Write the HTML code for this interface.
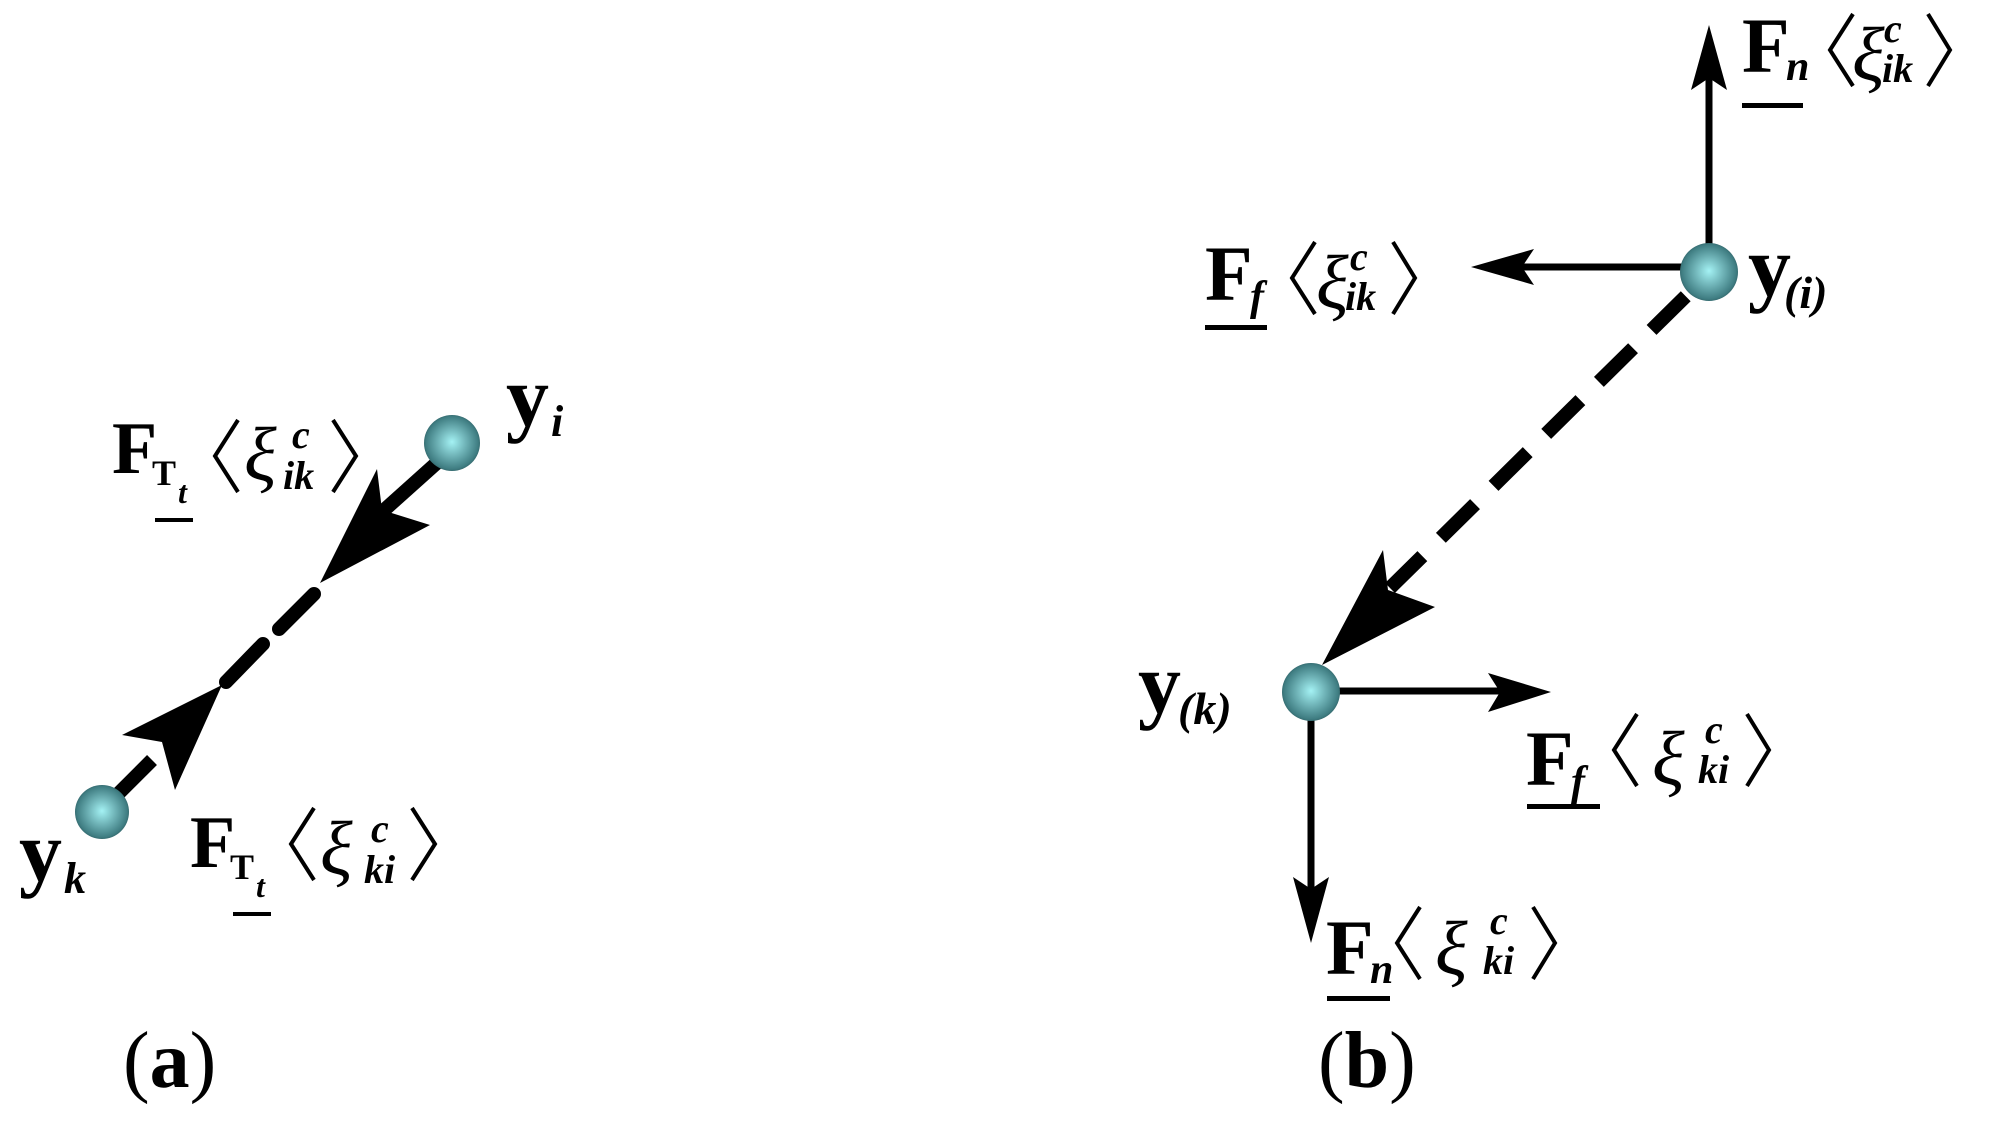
<!DOCTYPE html>
<html><head><meta charset="utf-8"><style>
html,body{margin:0;padding:0;background:#fff;}
svg{display:block;}
text{font-family:"Liberation Serif",serif;fill:#000;}
.B{font-weight:bold;}
.I{font-style:italic;}
</style></head><body>
<svg width="1995" height="1125" viewBox="0 0 1995 1125" xmlns="http://www.w3.org/2000/svg">
<defs>
<radialGradient id="sp" cx="0.5" cy="0.5" r="0.55" fx="0.5" fy="0.48">
<stop offset="0" stop-color="#a4f2f4"/>
<stop offset="0.45" stop-color="#6fb3b7"/>
<stop offset="0.85" stop-color="#3f7d82"/>
<stop offset="1" stop-color="#2a5559"/>
</radialGradient>
</defs>

<!-- ===== Panel (a) ===== -->
<line x1="440" y1="460" x2="382" y2="512" stroke="#000" stroke-width="14"/>
<polygon points="320,583 377,469 382,510 430,525" fill="#000"/>
<line x1="314" y1="594" x2="279" y2="629" stroke="#000" stroke-width="14" stroke-linecap="round"/>
<line x1="263" y1="644" x2="226" y2="682" stroke="#000" stroke-width="14" stroke-linecap="round"/>
<polygon points="222,685 122,735 162,742 175,790" fill="#000"/>
<line x1="152" y1="760" x2="100" y2="812" stroke="#000" stroke-width="14"/>
<circle cx="452" cy="443" r="28" fill="url(#sp)"/>
<circle cx="102" cy="812" r="27" fill="url(#sp)"/>

<!-- upper label a -->
<text x="112" y="473" class="B" font-size="74">F</text>
<text x="152" y="485" class="B" font-size="36">T</text>
<text x="178" y="503" class="I B" font-size="32">t</text>
<rect x="155" y="518" width="38" height="4" fill="#000"/>
<polyline points="238,420 215,456 238,492" fill="none" stroke="#000" stroke-width="4"/>
<text x="244" y="480" class="I" font-size="76">ξ</text>
<text x="292" y="448" class="I B" font-size="40">c</text>
<text x="283" y="489" class="I B" font-size="40">ik</text>
<polyline points="333,420 356,456 333,492" fill="none" stroke="#000" stroke-width="4"/>

<!-- lower label a -->
<text x="190" y="867" class="B" font-size="74">F</text>
<text x="230" y="879" class="B" font-size="36">T</text>
<text x="256" y="897" class="I B" font-size="32">t</text>
<rect x="233" y="912" width="38" height="4" fill="#000"/>
<polyline points="314,808 291,844 314,880" fill="none" stroke="#000" stroke-width="4"/>
<text x="320" y="874" class="I" font-size="76">ξ</text>
<text x="371" y="842" class="I B" font-size="40">c</text>
<text x="364" y="883" class="I B" font-size="40">ki</text>
<polyline points="412,808 435,844 412,880" fill="none" stroke="#000" stroke-width="4"/>

<text x="506" y="425" class="B" font-size="86">y</text>
<text x="551" y="436" class="I B" font-size="44">i</text>
<text x="19" y="880" class="B" font-size="86">y</text>
<text x="64" y="893" class="I B" font-size="44">k</text>

<text x="123" y="1087" font-size="80">(<tspan class="B">a</tspan>)</text>

<!-- ===== Panel (b) ===== -->
<line x1="1709" y1="245" x2="1709" y2="70" stroke="#000" stroke-width="7"/>
<polygon points="1709,25 1727,90 1709,78 1691,90" fill="#000"/>
<line x1="1685" y1="267" x2="1510" y2="267" stroke="#000" stroke-width="7"/>
<polygon points="1471,267 1534,249 1522,267 1534,285" fill="#000"/>
<line x1="1690" y1="292" x2="1390" y2="588" stroke="#000" stroke-width="14" stroke-dasharray="48 26" stroke-dashoffset="-6"/>
<polygon points="1322,665 1383,550 1388,590 1435,607" fill="#000"/>
<line x1="1335" y1="691" x2="1510" y2="691" stroke="#000" stroke-width="7"/>
<polygon points="1551,692 1488,673 1500,692 1488,712" fill="#000"/>
<line x1="1311" y1="715" x2="1311" y2="900" stroke="#000" stroke-width="7"/>
<polygon points="1311,943 1293,877 1311,889 1329,877" fill="#000"/>
<circle cx="1709" cy="272" r="29" fill="url(#sp)"/>
<circle cx="1311" cy="692" r="29" fill="url(#sp)"/>

<!-- Fn ik -->
<text x="1742" y="72" class="B" font-size="78">F</text>
<text x="1786" y="80" class="I B" font-size="42">n</text>
<rect x="1742" y="103" width="61" height="5" fill="#000"/>
<polyline points="1853,14 1830,50 1853,86" fill="none" stroke="#000" stroke-width="4"/>
<text x="1852" y="80" class="I" font-size="76">ξ</text>
<text x="1884" y="42" class="I B" font-size="40">c</text>
<text x="1882" y="82" class="I B" font-size="40">ik</text>
<polyline points="1928,14 1950,50 1928,86" fill="none" stroke="#000" stroke-width="4"/>

<!-- Ff ik -->
<text x="1205" y="300" class="B" font-size="78">F</text>
<text x="1250" y="310" class="I B" font-size="42">f</text>
<rect x="1205" y="325" width="62" height="5" fill="#000"/>
<polyline points="1315,242 1292,278 1315,314" fill="none" stroke="#000" stroke-width="4"/>
<text x="1316" y="308" class="I" font-size="76">ξ</text>
<text x="1350" y="270" class="I B" font-size="40">c</text>
<text x="1345" y="310" class="I B" font-size="40">ik</text>
<polyline points="1393,242 1415,278 1393,314" fill="none" stroke="#000" stroke-width="4"/>

<!-- Ff ki -->
<text x="1526" y="785" class="B" font-size="78">F</text>
<text x="1571" y="795" class="I B" font-size="42">f</text>
<rect x="1527" y="804" width="73" height="5" fill="#000"/>
<polyline points="1637,714 1614,750 1637,786" fill="none" stroke="#000" stroke-width="4"/>
<text x="1652" y="784" class="I" font-size="76">ξ</text>
<text x="1705" y="743" class="I B" font-size="40">c</text>
<text x="1698" y="783" class="I B" font-size="40">ki</text>
<polyline points="1747,714 1769,750 1747,786" fill="none" stroke="#000" stroke-width="4"/>

<!-- Fn ki -->
<text x="1326" y="974" class="B" font-size="78">F</text>
<text x="1370" y="983" class="I B" font-size="42">n</text>
<rect x="1327" y="996" width="63" height="5" fill="#000"/>
<polyline points="1420,907 1397,943 1420,979" fill="none" stroke="#000" stroke-width="4"/>
<text x="1435" y="974" class="I" font-size="76">ξ</text>
<text x="1490" y="934" class="I B" font-size="40">c</text>
<text x="1483" y="974" class="I B" font-size="40">ki</text>
<polyline points="1533,907 1555,943 1533,979" fill="none" stroke="#000" stroke-width="4"/>

<text x="1748" y="295" class="B" font-size="86">y</text>
<text x="1784" y="308" class="I B" font-size="46">(i)</text>
<text x="1138" y="712" class="B" font-size="86">y</text>
<text x="1178" y="724" class="I B" font-size="46">(k)</text>

<text x="1318" y="1087" font-size="80">(<tspan class="B">b</tspan>)</text>
</svg>
</body></html>
